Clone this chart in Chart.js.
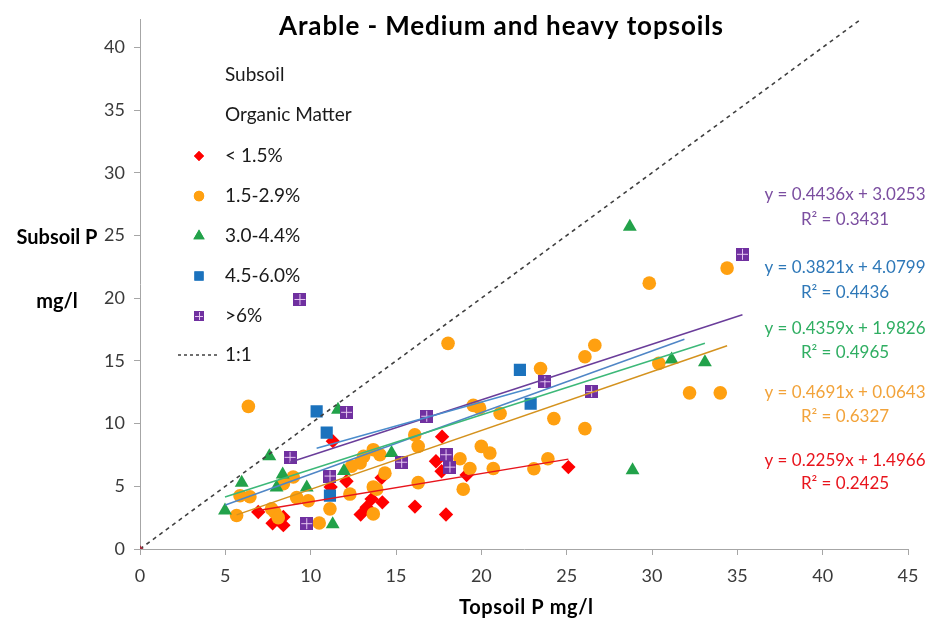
<!DOCTYPE html>
<html>
<head>
<meta charset="utf-8">
<script src="https://cdn.jsdelivr.net/npm/chart.js@4.4.0/dist/chart.umd.min.js"></script>
<style>
  html, body { margin: 0; padding: 0; background: #ffffff; }
  #wrap { width: 931px; height: 628px; }
</style>
</head>
<body>
<div id="wrap"><canvas id="c" width="931" height="628"></canvas></div>
<script>
// Topsoil vs subsoil P (mg/l), arable land, medium and heavy topsoils,
// grouped by subsoil organic matter class.
const seriesNames = ['< 1.5%', '1.5-2.9%', '3.0-4.4%', '4.5-6.0%', '>6%'];

const omLowX = [11.3, 11.17, 6.93, 8.4, 7.77, 8.4, 17.7, 17.34, 17.67, 19.14, 12.1, 14.16, 13.57, 14.2, 13.28, 12.93, 16.11, 17.93, 25.1];
const omLowY = [8.6, 4.95, 2.95, 2.55, 2.05, 1.9, 8.96, 7.0, 6.2, 5.9, 5.4, 5.68, 3.98, 3.72, 3.33, 2.75, 3.38, 2.75, 6.53];

const omMidX = [6.35, 8.98, 8.4, 5.86, 6.44, 9.18, 9.86, 11.13, 5.66, 7.71, 7.9, 8.1, 10.5, 19.53, 19.9, 21.1, 16.1, 16.3, 13.67, 13.1, 14.06, 20.0, 20.5, 18.75, 19.33, 20.7, 18.94, 16.3, 12.9, 12.4, 14.35, 13.67, 13.87, 12.3, 13.67, 34.4, 29.84, 26.65, 26.07, 23.47, 24.25, 26.07, 30.4, 32.2, 34.0, 23.9, 23.08, 18.05];
const omMidY = [11.37, 5.74, 5.2, 4.25, 4.17, 4.1, 3.85, 3.2, 2.67, 3.2, 2.93, 2.5, 2.07, 11.45, 11.24, 10.8, 9.1, 8.18, 7.92, 7.39, 7.52, 8.18, 7.65, 7.2, 6.42, 6.42, 4.77, 5.29, 6.86, 6.6, 6.05, 4.95, 4.77, 4.38, 2.8, 22.4, 21.2, 16.25, 15.33, 14.39, 10.4, 9.6, 14.8, 12.45, 12.45, 7.2, 6.4, 16.4];

const omHighX = [11.6, 7.58, 8.36, 5.96, 8.0, 9.77, 4.98, 11.29, 11.95, 14.74, 31.15, 33.1, 28.86, 28.7];
const omHighY = [11.1, 7.39, 5.95, 5.29, 4.9, 4.9, 3.07, 1.97, 6.21, 7.65, 15.12, 14.9, 6.27, 25.7];

const omRichX = [10.35, 10.94, 11.13, 22.26, 22.89];
const omRichY = [10.98, 9.28, 4.25, 14.28, 11.58];

const omPeatyX = [9.37, 8.79, 12.1, 11.13, 9.77, 16.8, 15.33, 17.93, 18.16, 23.72, 26.46, 35.3];
const omPeatyY = [19.9, 7.31, 10.9, 5.82, 2.02, 10.59, 6.92, 7.52, 6.53, 13.34, 12.55, 23.5];

// Linear fits per class: y = slope * x + intercept
const trendSlopes = [0.2259, 0.4691, 0.4359, 0.3821, 0.4436];
const trendIntercepts = [1.4966, 0.0643, 1.9826, 4.0799, 3.0253];
const trendR2 = [0.2425, 0.6327, 0.4965, 0.4436, 0.3431];

// Additional unlabelled fit line
const pooledFit = [0.491, 1.06];
const pooledRange = [5.0, 31.9];

// 1:1 reference line
const oneToOneX = [0, 45];

const xTicksMax = 45;
const yTicksMax = 42.2;

// ---- styling ----
const FONT = 'Lato, "Open Sans", sans-serif';
const AXIS = '#a6a6a6';
const markerColors = ['#ff0000', '#ffa010', '#22a24a', '#1b72bd', '#7030a0'];
const lineColors   = ['#e8141c', '#d4921e', '#3cb878', '#4a8ccc', '#6a3d9a'];
const textColors   = ['#e8141c', '#f2a33a', '#2fae62', '#2e78b8', '#7b4ea0'];

function crossSquare(side, color) {
  const c = document.createElement('canvas');
  c.width = side; c.height = side;
  const g = c.getContext('2d');
  g.fillStyle = color;
  g.fillRect(0, 0, side, side);
  g.strokeStyle = 'rgba(235,205,245,0.95)';
  g.lineWidth = 1;
  const m = Math.floor(side / 2) + 0.5;
  g.beginPath();
  g.moveTo(m, 1); g.lineTo(m, side - 1);
  g.moveTo(1, m); g.lineTo(side - 1, m);
  g.stroke();
  return c;
}

const peatyMarker = crossSquare(13, markerColors[4]);
const peatyLegendMarker = crossSquare(10, markerColors[4]);

const seriesX = [omLowX, omMidX, omHighX, omRichX, omPeatyX];
const seriesY = [omLowY, omMidY, omHighY, omRichY, omPeatyY];
const pointStyles = ['rectRot', 'circle', 'triangle', 'rect', peatyMarker];
const pointRadii = [7.2, 6.8, 8, 8.6, 7];

function pairs(xs, ys) { return xs.map((x, i) => ({ x: x, y: ys[i] })); }

const datasets = [];

// trend lines across each class's x range
seriesX.forEach((xs, i) => {
  const x0 = Math.min(...xs), x1 = Math.max(...xs);
  datasets.push({
    label: 'fit ' + seriesNames[i],
    data: [x0, x1].map(x => ({ x: x, y: trendSlopes[i] * x + trendIntercepts[i] })),
    showLine: true, borderColor: lineColors[i], borderWidth: 1.5,
    pointRadius: 0, order: 0
  });
});

datasets.push({
  label: 'pooled fit',
  data: pooledRange.map(x => ({ x: x, y: pooledFit[0] * x + pooledFit[1] })),
  showLine: true, borderColor: '#4f86c6', borderWidth: 1.5,
  pointRadius: 0, order: 0
});

datasets.push({
  label: '1:1',
  data: oneToOneX.map(x => ({ x: x, y: x })),
  showLine: true, borderColor: '#404040', borderWidth: 1.6, borderDash: [4, 4],
  pointRadius: [2.5, 0], pointStyle: 'rectRot',
  pointBackgroundColor: '#a33040', pointBorderColor: '#a33040', order: 0
});

// marker series: later classes drawn on top
seriesX.forEach((xs, i) => {
  datasets.push({
    label: seriesNames[i],
    data: pairs(xs, seriesY[i]),
    showLine: false,
    pointStyle: pointStyles[i],
    pointRadius: pointRadii[i],
    pointBackgroundColor: markerColors[i],
    pointBorderColor: markerColors[i],
    pointBorderWidth: 0,
    order: 10 - i
  });
});

// draws text spread to a given width via letter spacing
function spreadText(ctx, text, x, y, width) {
  ctx.letterSpacing = '0px';
  const w = ctx.measureText(text).width;
  const n = Math.max(1, text.length - 1);
  const sp = (width - w) / n;
  ctx.letterSpacing = sp.toFixed(2) + 'px';
  ctx.fillText(text, x + sp / 2, y);
  ctx.letterSpacing = '0px';
}

const overlay = {
  id: 'overlay',
  afterDraw(chart) {
    const ctx = chart.ctx;
    ctx.save();
    ctx.textBaseline = 'middle';

    // title
    ctx.fillStyle = '#000000';
    ctx.textAlign = 'center';
    ctx.font = 'bold 26px ' + FONT;
    spreadText(ctx, 'Arable - Medium and heavy topsoils', 501, 27, 444);

    // axis titles
    ctx.font = 'bold 20px ' + FONT;
    spreadText(ctx, 'Topsoil P mg/l', 526, 608, 134);
    ctx.fillText('Subsoil P', 57, 238);
    ctx.fillText('mg/l', 57, 302);

    // legend
    ctx.textAlign = 'left';
    ctx.fillStyle = '#1a1a1a';
    ctx.font = '19px ' + FONT;
    const tx = 225, mx = 199;
    ctx.fillText('Subsoil', tx, 75);
    ctx.fillText('Organic Matter', tx, 115);
    const rows = [156, 196, 236, 276, 316];
    const legendRadii = [5, 5.2, 6.5, 6.5, 5];
    rows.forEach((ry, i) => {
      ctx.fillStyle = '#1a1a1a';
      ctx.fillText(seriesNames[i], tx, ry);
      ctx.fillStyle = markerColors[i];
      if (i === 4) {
        ctx.drawImage(peatyLegendMarker, mx - 5, ry - 5);
      } else {
        Chart.helpers.drawPoint(ctx, { pointStyle: pointStyles[i], radius: legendRadii[i], borderWidth: 0, rotation: 0 }, mx, ry);
        ctx.fill();
      }
    });
    ctx.strokeStyle = '#404040';
    ctx.lineWidth = 1.4;
    ctx.setLineDash([3, 3]);
    ctx.beginPath(); ctx.moveTo(178, 355); ctx.lineTo(218, 355); ctx.stroke();
    ctx.setLineDash([]);
    ctx.fillStyle = '#1a1a1a';
    ctx.fillText('1:1', tx, 355);

    // fit equations
    ctx.textAlign = 'center';
    ctx.font = '17px ' + FONT;
    const eqRows = [[461, 484], [393, 417], [329, 353], [268, 293], [195, 220]];
    for (let i = 0; i < 5; i++) {
      ctx.fillStyle = textColors[i];
      ctx.fillText('y = ' + trendSlopes[i].toFixed(4) + 'x + ' + trendIntercepts[i].toFixed(4), 845, eqRows[i][0]);
      ctx.fillText('R\u00B2 = ' + trendR2[i].toFixed(4), 845, eqRows[i][1]);
    }
    ctx.restore();
  }
};

new Chart(document.getElementById('c'), {
  type: 'scatter',
  data: { datasets: datasets },
  options: {
    responsive: false,
    animation: false,
    devicePixelRatio: 1,
    layout: { padding: { top: 12, right: 23, left: 0, bottom: 0 } },
    plugins: { legend: { display: false }, tooltip: { enabled: false }, title: { display: false } },
    scales: {
      x: {
        type: 'linear', min: 0, max: xTicksMax,
        ticks: { stepSize: 5, color: '#3a3a3a', font: { family: FONT, size: 18 }, padding: 10, maxRotation: 0 },
        grid: { drawOnChartArea: false, drawTicks: true, tickLength: 6, color: AXIS },
        border: { color: AXIS, width: 1 },
        afterFit(s) { s.height = 79; }
      },
      y: {
        type: 'linear', min: 0, max: yTicksMax,
        ticks: { stepSize: 5, color: '#3a3a3a', font: { family: FONT, size: 18 }, padding: 9 },
        grid: { drawOnChartArea: false, drawTicks: true, tickLength: 6, color: AXIS },
        border: { color: AXIS, width: 1 },
        afterBuildTicks(s) { s.ticks = s.ticks.filter(t => Math.abs(t.value % 5) < 1e-9); },
        afterFit(s) { s.width = 140; }
      }
    }
  },
  plugins: [overlay]
});
</script>
</body>
</html>
